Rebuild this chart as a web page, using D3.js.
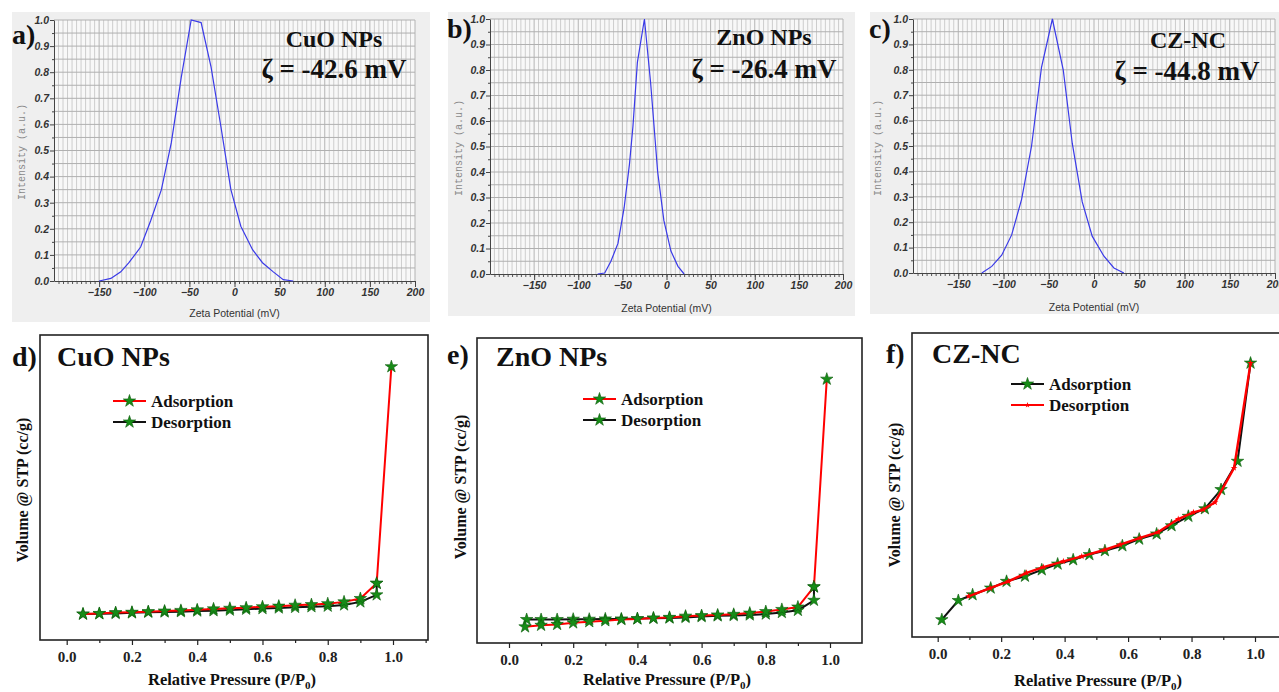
<!DOCTYPE html>
<html><head><meta charset="utf-8">
<script src="https://cdn.jsdelivr.net/npm/d3@7"></script>
<style>body{margin:0;background:#fff}svg{display:block}</style>
</head><body>
<svg id="c" width="1279" height="692"></svg>
<script>
// ---------- Zeta potential data ----------
const zetaTicks = [-150,-100,-50,0,50,100,150,200];
const intensityTicks = [0,0.1,0.2,0.3,0.4,0.5,0.6,0.7,0.8,0.9,1.0];

const cuoZetaX = [-150,-137,-126,-117,-104,-93,-81,-70,-59,-48,-37,-26,-15,-4,7,20,31,43,54,65];
const cuoZetaY = [0,0.01,0.035,0.07,0.13,0.23,0.35,0.53,0.78,1.0,0.99,0.82,0.59,0.35,0.21,0.12,0.07,0.035,0.005,0];

const znoZetaX = [-78,-70,-63,-55,-48,-42,-38,-33,-25,-18,-10,-3,5,13,20];
const znoZetaY = [0,0.004,0.05,0.12,0.26,0.43,0.58,0.83,1.0,0.75,0.40,0.21,0.09,0.03,0];

const czZetaX = [-124,-113,-102,-91,-80,-69,-58,-46,-34,-24,-13,-2,11,22,33];
const czZetaY = [0,0.026,0.07,0.15,0.29,0.5,0.81,1.0,0.8,0.51,0.28,0.145,0.066,0.02,0];

// ---------- BET isotherm data (arbitrary volume units) ----------
const pressureTicks = [0,0.2,0.4,0.6,0.8,1.0];

const cuoAdsP = [0.05,0.1,0.15,0.2,0.25,0.3,0.35,0.4,0.45,0.5,0.55,0.6,0.65,0.7,0.75,0.8,0.85,0.9,0.95,0.995];
const cuoAdsV = [8.5,8.7,9.0,9.1,9.3,9.5,9.7,9.9,10.2,10.4,10.6,10.9,11.1,11.4,11.6,11.9,12.5,13.6,18.6,89.6];
const cuoDesP = [0.95,0.95,0.9,0.85,0.8,0.75,0.7,0.65,0.6,0.55,0.5,0.45,0.4,0.35,0.3,0.25,0.2,0.15,0.1,0.05];
const cuoDesV = [18.6,14.8,12.5,11.5,11.1,10.9,10.7,10.5,10.3,10.1,9.8,9.6,9.5,9.3,9.2,9.1,8.9,8.7,8.6,8.5];

const znoAdsP = [0.05,0.1,0.15,0.2,0.25,0.3,0.35,0.4,0.45,0.5,0.55,0.6,0.65,0.7,0.75,0.8,0.85,0.9,0.95,0.99];
const znoAdsV = [5.3,5.8,6.1,6.6,7.0,7.3,7.7,7.9,8.2,8.4,8.8,9.0,9.2,9.4,9.8,10.3,11.0,11.8,18.4,86.5];
const znoDesP = [0.95,0.95,0.9,0.85,0.8,0.75,0.7,0.65,0.6,0.55,0.5,0.45,0.4,0.35,0.3,0.25,0.2,0.15,0.1,0.055];
const znoDesV = [18.4,14.0,10.7,10.0,9.5,9.2,9.0,8.9,8.65,8.4,8.2,8.1,8.0,7.9,7.9,7.8,7.8,7.7,7.7,7.7];

const czAdsP = [0.013,0.065,0.11,0.167,0.217,0.275,0.328,0.378,0.427,0.478,0.527,0.582,0.635,0.69,0.737,0.79,0.842,0.893,0.945,0.986];
const czAdsV = [5.7,12.0,13.9,16.1,18.3,20.0,22.1,24.0,25.4,27.1,28.4,30.0,32.2,33.9,36.6,39.7,42.2,48.5,57.8,90.1];
const czDesP = [0.986,0.934,0.874,0.837,0.806,0.758,0.695,0.638,0.575,0.527,0.454,0.396,0.333,0.28,0.223,0.165,0.097];
const czDesV = [90.1,55.6,44.3,41.9,41.0,38.8,34.5,32.6,30.4,28.7,26.5,24.9,23.0,21.1,18.3,16.1,13.4];

const svg = d3.select("#c");
const SERIF = "'Liberation Serif','Times New Roman',serif";
const SANS = "'Liberation Sans',Arial,sans-serif";
const MONO = "'Liberation Mono','DejaVu Sans Mono',monospace";
const zip = (a,b)=>a.map((v,i)=>[v,b[i]]);

// ---------- Zeta panel ----------
function zetaPanel(o){
  const g = svg.append("g");
  g.append("rect").attr("x",o.bg[0]).attr("y",o.bg[1]).attr("width",o.bg[2]-o.bg[0]).attr("height",o.bg[3]-o.bg[1]).attr("fill","#efefef");
  const x = d3.scaleLinear().domain([-200,200]).range(o.xr);
  const y = d3.scaleLinear().domain([0,1]).range(o.yr);
  g.append("rect").attr("x",o.xr[0]).attr("y",o.yr[1]).attr("width",o.xr[1]-o.xr[0]).attr("height",o.yr[0]-o.yr[1]).attr("fill","#f8f8f8");
  const vgrid = d3.range(-195,201,5);
  g.append("g").selectAll("line").data(vgrid).join("line")
    .attr("x1",d=>x(d)).attr("x2",d=>x(d)).attr("y1",y(0)).attr("y2",y(1))
    .attr("stroke",d=>d%50===0?"#b4b4b4":"#cdcdcd").attr("stroke-width",1);
  const hgrid = d3.range(0.05,1.001,0.05);
  g.append("g").selectAll("line").data(hgrid).join("line")
    .attr("x1",o.xr[0]).attr("x2",o.xr[1]).attr("y1",d=>y(d)).attr("y2",d=>y(d))
    .attr("stroke","#b0b0b0").attr("stroke-width",1);
  g.append("g").attr("transform",`translate(0,${y(0)})`)
    .call(d3.axisBottom(x).tickValues(d3.range(-195,200,5)).tickSize(3).tickFormat("").tickSizeOuter(0))
    .call(s=>{s.select(".domain").remove(); s.selectAll("line").attr("stroke","#555");});
  const xa = g.append("g").attr("transform",`translate(0,${y(0)})`)
    .call(d3.axisBottom(x).tickValues(zetaTicks).tickSize(6).tickPadding(2).tickSizeOuter(0).tickFormat(d3.format("d")));
  xa.select(".domain").attr("stroke","#444");
  xa.selectAll("line").attr("stroke","#444");
  xa.selectAll("text").attr("font-family",SANS).attr("font-size",10.5).attr("font-weight","bold").attr("font-style","italic").attr("fill","#333");
  g.append("g").attr("transform",`translate(${o.xr[0]},0)`)
    .call(d3.axisLeft(y).tickValues(d3.range(0.05,1,0.1)).tickSize(2).tickFormat("").tickSizeOuter(0))
    .call(s=>{s.select(".domain").remove(); s.selectAll("line").attr("stroke","#444");});
  const ya = g.append("g").attr("transform",`translate(${o.xr[0]},0)`)
    .call(d3.axisLeft(y).tickValues(intensityTicks).tickSize(4).tickPadding(1).tickSizeOuter(0).tickFormat(d3.format(".1f")));
  ya.select(".domain").attr("stroke","#444");
  ya.selectAll("line").attr("stroke","#444");
  ya.selectAll("text").attr("font-family",SANS).attr("font-size",10.5).attr("font-weight","bold").attr("font-style","italic").attr("fill","#333");
  g.append("path").datum(zip(o.xs,o.ys))
    .attr("d",d3.line().x(d=>x(d[0])).y(d=>y(d[1])))
    .attr("fill","none").attr("stroke","#3a3ae8").attr("stroke-width",1.2);
  g.append("text").attr("x",(o.xr[0]+o.xr[1])/2).attr("y",o.xtY).attr("text-anchor","middle")
    .attr("font-family",SANS).attr("font-size",10.5).attr("fill","#333").text("Zeta Potential (mV)");
  g.append("text").attr("transform",`translate(${o.ytX},${o.ytY}) rotate(-90)`).attr("text-anchor","middle")
    .attr("font-family",MONO).attr("font-size",10).attr("fill","#8a8a8a").text("Intensity (a.u.)");
  g.append("text").attr("x",o.lab[0]).attr("y",o.lab[1]).attr("font-family",SERIF).attr("font-weight","bold")
    .attr("font-size",28).attr("fill","#111").text(o.label);
  g.append("text").attr("x",o.name[0]).attr("y",o.name[1]).attr("text-anchor","middle").attr("font-family",SERIF).attr("font-weight","bold")
    .attr("font-size",24).attr("fill","#111").text(o.nameText);
  g.append("text").attr("x",o.zeta[0]).attr("y",o.zeta[1]).attr("text-anchor","middle").attr("font-family",SERIF).attr("font-weight","bold")
    .attr("font-size",27).attr("fill","#111").text(o.zetaText);
}

zetaPanel({bg:[12,12,430,322], xr:[54,415], yr:[281,20], xs:cuoZetaX, ys:cuoZetaY,
  xtY:317, ytX:25, ytY:152, label:"a)", lab:[12,44], nameText:"CuO NPs", name:[334,47], zetaText:"ζ = -42.6 mV", zeta:[334,78]});
zetaPanel({bg:[448,12,855,316], xr:[490,843], yr:[274,19], xs:znoZetaX, ys:znoZetaY,
  xtY:312, ytX:462, ytY:148, label:"b)", lab:[447,38], nameText:"ZnO NPs", name:[764,45], zetaText:"ζ = -26.4 mV", zeta:[764,78]});
zetaPanel({bg:[870,12,1279,314], xr:[913,1275], yr:[273,19], xs:czZetaX, ys:czZetaY,
  xtY:311, ytX:881, ytY:148, label:"c)", lab:[869,38], nameText:"CZ-NC", name:[1188,48], zetaText:"ζ = -44.8 mV", zeta:[1187,80]});

// ---------- BET panel ----------
const star = d3.symbol().type(d3.symbolStar);
function betPanel(o){
  const g = svg.append("g");
  const x = d3.scaleLinear().domain([0,1]).range(o.x01);
  const y = d3.scaleLinear().domain([0,100]).range([o.box[3],o.box[1]]);
  g.append("rect").attr("x",o.box[0]).attr("y",o.box[1]).attr("width",o.box[2]-o.box[0]).attr("height",o.box[3]-o.box[1])
    .attr("fill","#fff").attr("stroke","#222").attr("stroke-width",1.6);
  const x0 = x.invert(o.box[0]), x1 = x.invert(o.box[2]);
  const minor = d3.range(-0.1,1.11,0.2).filter(v=>v>x0&&v<x1);
  g.append("g").attr("transform",`translate(0,${o.box[3]})`)
    .call(d3.axisBottom(x).tickValues(minor).tickSize(3).tickFormat("").tickSizeOuter(0))
    .call(s=>{s.select(".domain").remove(); s.selectAll("line").attr("stroke","#222").attr("stroke-width",1.2);});
  const xa = g.append("g").attr("transform",`translate(0,${o.box[3]})`)
    .call(d3.axisBottom(x).tickValues(pressureTicks).tickSize(5).tickPadding(6).tickSizeOuter(0).tickFormat(d3.format(".1f")));
  xa.select(".domain").remove();
  xa.selectAll("line").attr("stroke","#222").attr("stroke-width",1.2);
  xa.selectAll("text").attr("font-family",SERIF).attr("font-weight","bold").attr("font-size",15).attr("fill","#222");
  const line = d3.line().x(d=>x(d[0])).y(d=>y(d[1]));
  o.layers.forEach(L=>{
    g.append("path").datum(zip(L.p,L.v)).attr("d",line).attr("fill","none").attr("stroke",L.color).attr("stroke-width",L.w||2).attr("stroke-linejoin","round");
    g.append("g").selectAll("path").data(zip(L.p,L.v)).join("path")
      .attr("transform",d=>`translate(${x(d[0])},${y(d[1])})`).attr("d",star.size(L.msize)()).attr("fill",L.mfill)
      .attr("stroke",L.mstroke||"none").attr("stroke-width",0.6);
  });
  o.legend.forEach((L,i)=>{
    const ly = o.leg[1] + i*21;
    g.append("line").attr("x1",o.leg[0]).attr("x2",o.leg[0]+33).attr("y1",ly).attr("y2",ly).attr("stroke",L.color).attr("stroke-width",2.2);
    g.append("path").attr("transform",`translate(${o.leg[0]+16.5},${ly})`).attr("d",star.size(L.msize)()).attr("fill",L.mfill)
      .attr("stroke",L.mstroke||"none").attr("stroke-width",0.6);
    g.append("text").attr("x",o.leg[0]+38).attr("y",ly+5.5).attr("font-family",SERIF).attr("font-weight","bold").attr("font-size",17).attr("fill","#111").text(L.name);
  });
  g.append("text").attr("x",o.lab[0]).attr("y",o.lab[1]).attr("font-family",SERIF).attr("font-weight","bold").attr("font-size",28).attr("fill","#111").text(o.label);
  g.append("text").attr("x",o.name[0]).attr("y",o.name[1]).attr("font-family",SERIF).attr("font-weight","bold").attr("font-size",28).attr("fill","#111").text(o.nameText);
  g.append("text").attr("transform",`translate(${o.yt[0]},${o.yt[1]}) rotate(-90)`).attr("text-anchor","middle")
    .attr("font-family",SERIF).attr("font-weight","bold").attr("font-size",16).attr("fill","#111").text("Volume @ STP (cc/g)");
  const xt = g.append("text").attr("x",o.xt[0]).attr("y",o.xt[1]).attr("text-anchor","middle")
    .attr("font-family",SERIF).attr("font-weight","bold").attr("font-size",16.5).attr("fill","#111");
  xt.append("tspan").text("Relative Pressure (P/P");
  xt.append("tspan").attr("font-size",11).attr("dy",4).text("0");
  xt.append("tspan").attr("dy",-4).text(")");
}

const GREEN = "#178c17", GSTROKE = "#0c5a0c";
const S = 48;
betPanel({box:[40,335,428,640], x01:[66.7,393], label:"d)", lab:[12,366], nameText:"CuO NPs", name:[57,366],
  yt:[28,490], xt:[232,685], leg:[113,401],
  layers:[{p:cuoDesP,v:cuoDesV,color:"#111",mfill:GREEN,mstroke:GSTROKE,msize:S},{p:cuoAdsP,v:cuoAdsV,color:"#f00",mfill:GREEN,mstroke:GSTROKE,msize:S}],
  legend:[{name:"Adsorption",color:"#f00",mfill:GREEN,mstroke:GSTROKE,msize:S},{name:"Desorption",color:"#111",mfill:GREEN,mstroke:GSTROKE,msize:S}]});
betPanel({box:[477,338,862,643], x01:[509,830], label:"e)", lab:[447,364], nameText:"ZnO NPs", name:[496,366],
  yt:[466,487], xt:[667,685], leg:[583,399],
  layers:[{p:znoDesP,v:znoDesV,color:"#111",mfill:GREEN,mstroke:GSTROKE,msize:S},{p:znoAdsP,v:znoAdsV,color:"#f00",mfill:GREEN,mstroke:GSTROKE,msize:S}],
  legend:[{name:"Adsorption",color:"#f00",mfill:GREEN,mstroke:GSTROKE,msize:S},{name:"Desorption",color:"#111",mfill:GREEN,mstroke:GSTROKE,msize:S}]});
betPanel({box:[912,333,1281,637], x01:[937.7,1255], label:"f)", lab:[886,363], nameText:"CZ-NC", name:[932,363],
  yt:[900,495], xt:[1098,686], leg:[1011,384],
  layers:[{p:czAdsP,v:czAdsV,color:"#111",mfill:GREEN,mstroke:GSTROKE,msize:S},{p:czDesP,v:czDesV,color:"#f00",mfill:"#f00",msize:14,w:2.4}],
  legend:[{name:"Adsorption",color:"#111",mfill:GREEN,mstroke:GSTROKE,msize:S},{name:"Desorption",color:"#f00",mfill:"#f00",msize:10}]});
</script>
</body></html>
